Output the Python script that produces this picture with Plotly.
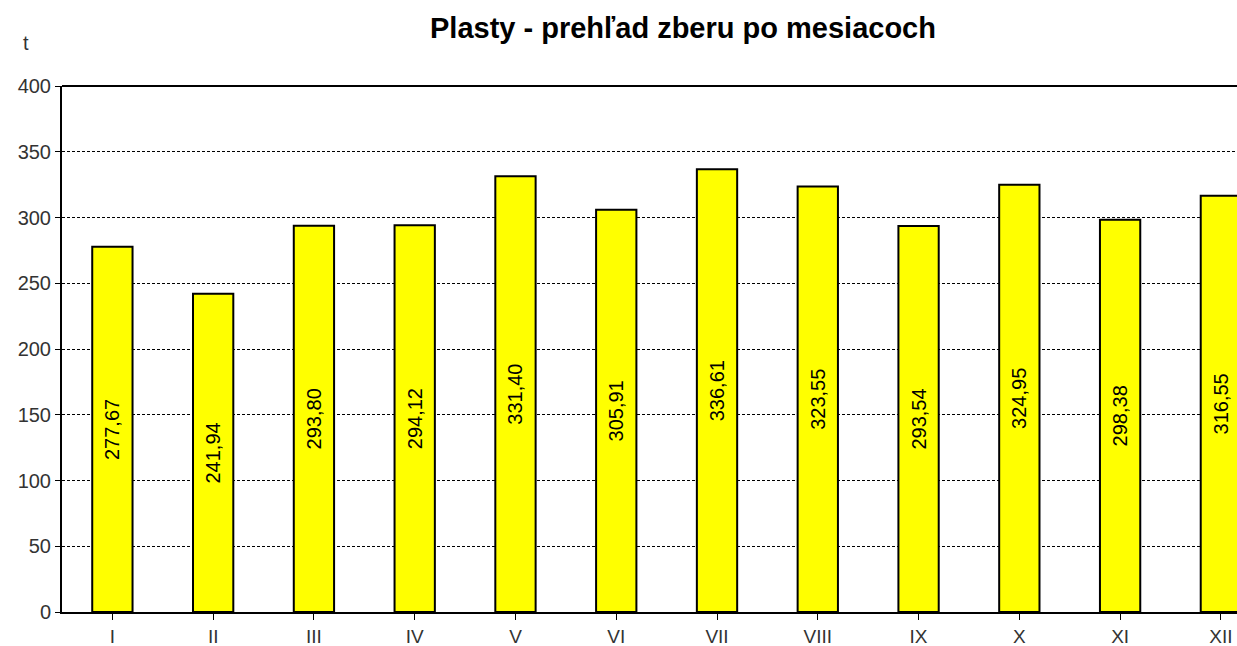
import plotly.graph_objects as go

months = ["I", "II", "III", "IV", "V", "VI", "VII", "VIII", "IX", "X", "XI", "XII"]
values = [277.67, 241.94, 293.80, 294.12, 331.40, 305.91, 336.61, 323.55, 293.54, 324.95, 298.38, 316.55]
y_ticks = [0, 50, 100, 150, 200, 250, 300, 350, 400]
title_text = "Plasty - prehľad zberu po mesiacoch"
unit_text = "t"

FONT = "Liberation Sans, Arial, sans-serif"

W, H = 1237, 646
L, T, B = 62, 86, 646 - 612

fig = go.Figure()
fig.add_trace(go.Bar(
    x=list(range(len(months))),
    y=values,
    width=0.4,
    marker=dict(color="#FFFF00", line=dict(color="#000000", width=2)),
    texttemplate="%{y:.2f}",
    textposition="inside",
    insidetextanchor="middle",
    textangle=-90,
    constraintext="none",
    textfont=dict(family=FONT, size=20, color="#000000"),
    cliponaxis=True,
))

fig.update_layout(
    width=W, height=H,
    margin=dict(l=L, r=0, t=T, b=B, pad=0, autoexpand=False),
    paper_bgcolor="white", plot_bgcolor="white",
    separators=", ",
    showlegend=False,
    title=dict(text=title_text, x=683 / W, xanchor="center", xref="container",
               y=1 - 28 / H, yanchor="middle", yref="container",
               font=dict(family=FONT, size=29, color="#000000", weight="bold")),
    xaxis=dict(
        range=[-0.5, 11.16],
        tickmode="array", tickvals=list(range(len(months))), ticktext=months,
        tickson="boundaries", ticks="outside", ticklen=6, tickwidth=1, tickcolor="#000000",
        showline=True, linecolor="#000000", linewidth=2,
        showgrid=False, zeroline=False,
        tickfont=dict(family=FONT, size=19, color="#333333"),
    ),
    yaxis=dict(
        range=[0, 400],
        tickmode="array", tickvals=y_ticks,
        ticks="outside", ticklen=5, tickwidth=1, tickcolor="#000000",
        showline=True, linecolor="#000000", linewidth=2,
        showgrid=True, gridcolor="#000000", gridwidth=1, griddash="3px,2px",
        zeroline=False,
        tickfont=dict(family=FONT, size=20, color="#333333"),
    ),
)

# top frame line
fig.add_shape(type="line", xref="paper", yref="paper", x0=0, x1=1, y0=1, y1=1,
              line=dict(color="#000000", width=2))

fig.add_annotation(text=unit_text, xref="paper", yref="paper",
                   x=(26 - L) / (W - L), y=(612 - 43) / (612 - T),
                   xanchor="center", yanchor="middle", showarrow=False,
                   font=dict(family=FONT, size=20, color="#333333"))

fig.write_html(
    "out.html",
    config={"displayModeBar": False},
    post_script="document.body.style.margin='0';document.body.style.overflow='hidden';",
)
